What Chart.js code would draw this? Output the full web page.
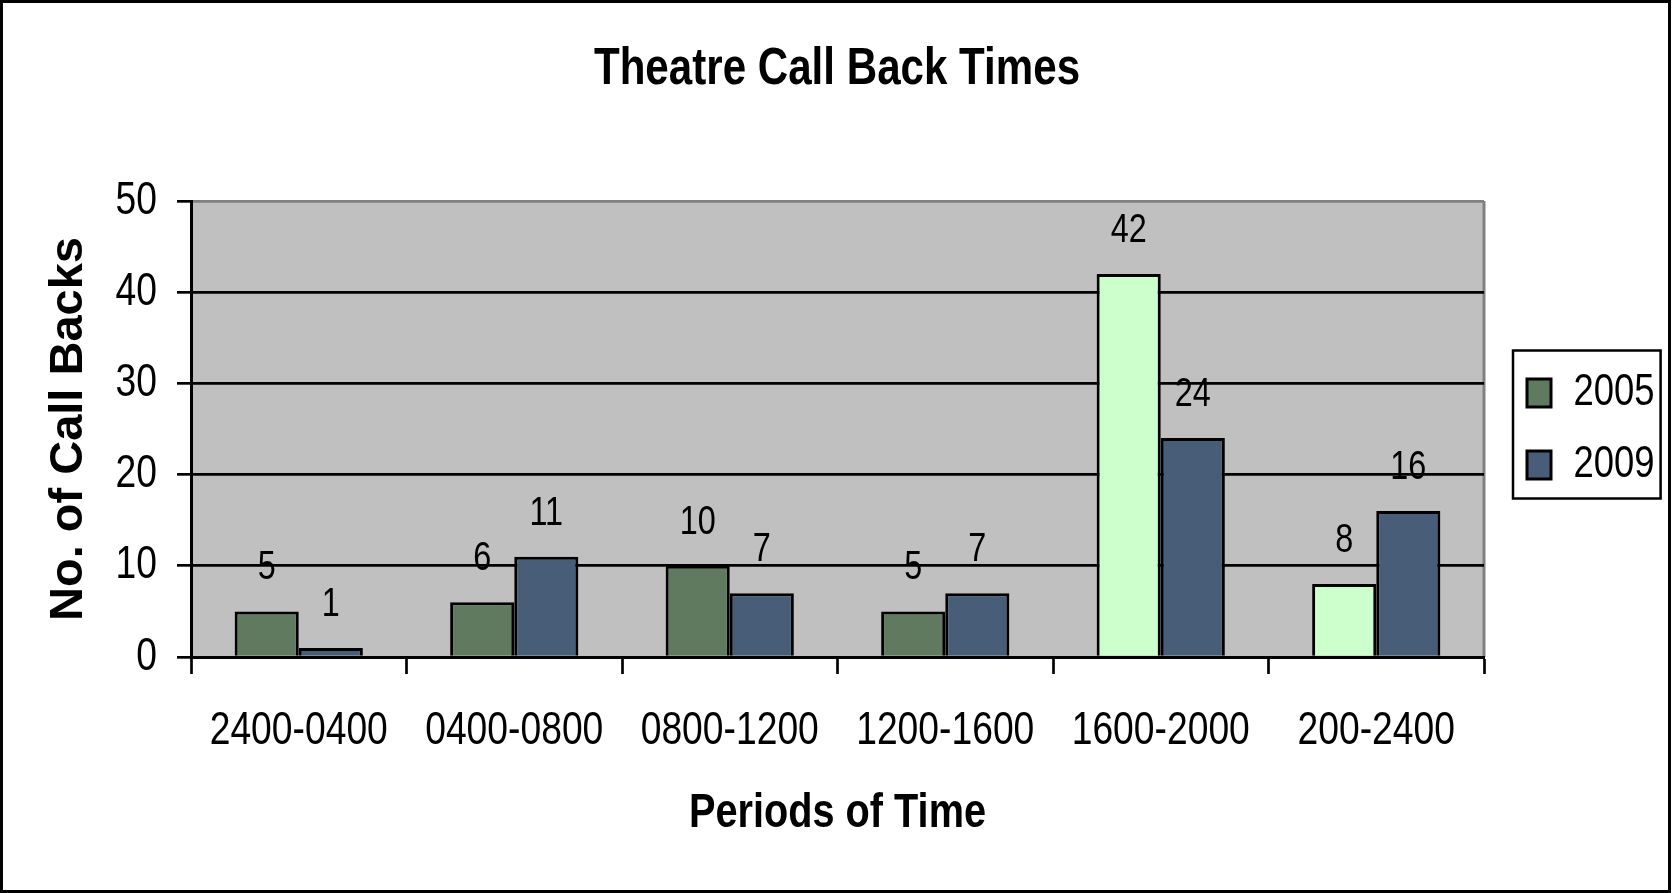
<!DOCTYPE html>
<html>
<head>
<meta charset="utf-8">
<title>Theatre Call Back Times</title>
<script src="https://cdn.jsdelivr.net/npm/chart.js@4.4.1/dist/chart.umd.min.js"></script>
<style>
  html, body { margin: 0; padding: 0; background: #ffffff; }
  #wrap { width: 1672px; height: 893px; }
  canvas { display: block; }
</style>
</head>
<body>
<div id="wrap"><canvas id="chart" width="1672" height="893"></canvas></div>
<script>
// ---- data ----
const periods = ['2400-0400', '0400-0800', '0800-1200', '1200-1600', '1600-2000', '200-2400'];
const seriesNames = ['2005', '2009'];
const calls2005 = [5, 6, 10, 5, 42, 8];
const calls2009 = [1, 11, 7, 7, 24, 16];
const yTickValues = [0, 10, 20, 30, 40, 50];

// ---- styles ----
const NARROW = "'Liberation Sans Narrow', 'Liberation Sans', Arial, sans-serif";
const WIDE = "'Liberation Sans', Arial, sans-serif";
const fill2005 = ['#5f7a5f', '#5f7a5f', '#5f7a5f', '#5f7a5f', '#ccffcc', '#ccffcc'];
const fill2009 = '#485d78';
const plotBg = '#c0c0c0';
const legendFontSize = 45;
const legendPad = 27;
const legendBox = 24;
const legendShift = 16;

// The narrow face is optional: when it is missing, the regular face is
// squeezed horizontally wherever a narrow font was asked for.
const probe = document.createElement('canvas').getContext('2d');
probe.font = "40px 'Liberation Sans Narrow', monospace";
const wNarrow = probe.measureText('Theatre 2400-0400').width;
probe.font = '40px monospace';
const wMono = probe.measureText('Theatre 2400-0400').width;
const squeeze = Math.abs(wNarrow - wMono) > 0.5 ? 1 : 0.81;

function condenseText(ctx) {
  const rawFill = ctx.fillText;
  const rawMeasure = ctx.measureText;
  const factor = c => (squeeze !== 1 && c.font.indexOf('Narrow') !== -1) ? squeeze : 1;
  ctx.fillText = function (text, x, y, maxWidth) {
    const f = factor(this);
    if (f === 1) {
      return maxWidth === undefined ? rawFill.call(this, text, x, y) : rawFill.call(this, text, x, y, maxWidth);
    }
    this.save();
    this.translate(x, y);
    this.scale(f, 1);
    if (maxWidth === undefined) rawFill.call(this, text, 0, 0);
    else rawFill.call(this, text, 0, 0, maxWidth / f);
    this.restore();
  };
  ctx.measureText = function (text) {
    const m = rawMeasure.call(this, text);
    const f = factor(this);
    if (f === 1) return m;
    return {
      width: m.width * f,
      actualBoundingBoxLeft: m.actualBoundingBoxLeft * f,
      actualBoundingBoxRight: m.actualBoundingBoxRight * f,
      actualBoundingBoxAscent: m.actualBoundingBoxAscent,
      actualBoundingBoxDescent: m.actualBoundingBoxDescent,
      fontBoundingBoxAscent: m.fontBoundingBoxAscent,
      fontBoundingBoxDescent: m.fontBoundingBoxDescent
    };
  };
  return ctx;
}

const canvas = document.getElementById('chart');
const ctx2d = condenseText(canvas.getContext('2d'));

// width the legend will need, so the plot area ends at x = 1484
ctx2d.font = legendFontSize + 'px ' + NARROW;
const legendTextW = Math.max(...seriesNames.map(t => ctx2d.measureText(t).width));
const legendWidth = legendPad + legendBox + legendFontSize / 2 + legendTextW + 10;
const plotRight = 1484;
const rightPad = 1672 - plotRight - legendWidth;

// grey plot area, outer frame and the legend frame
const framePlugin = {
  id: 'framePlugin',
  afterLayout(chart) {
    // legend sits a little away from the plot; title centred on the whole canvas
    chart.legend.left += legendShift;
    chart.legend.right += legendShift;
    if (chart.titleBlock) {
      chart.titleBlock.left += rightPad / 2 + 1;
      chart.titleBlock.right += rightPad / 2 + 1;
    }
  },
  beforeDraw(chart) {
    const { ctx, chartArea: a, width, height } = chart;
    ctx.save();
    ctx.fillStyle = '#ffffff';
    ctx.fillRect(0, 0, width, height);
    ctx.fillStyle = plotBg;
    ctx.fillRect(a.left, a.top, a.right - a.left, a.bottom - a.top);
    ctx.strokeStyle = '#808080';
    ctx.lineWidth = 3;
    ctx.beginPath();
    ctx.moveTo(a.right, a.top);
    ctx.lineTo(a.right, a.bottom);
    ctx.stroke();
    ctx.restore();
  },
  afterDraw(chart) {
    const { ctx, width, height } = chart;
    ctx.save();
    ctx.strokeStyle = '#000000';
    ctx.lineWidth = 3;
    ctx.strokeRect(1.5, 1.5, width - 4, height - 3);
    const hb = chart.legend.legendHitBoxes;
    if (hb && hb.length) {
      const first = hb[0], last = hb[hb.length - 1];
      const right = Math.max(...hb.map(h => h.left + h.width));
      const x0 = first.left - 14, y0 = first.top - 20;
      const x1 = right + 6, y1 = last.top + last.height + 11;
      ctx.lineWidth = 2.5;
      ctx.strokeRect(x0, y0, x1 - x0, y1 - y0);
    }
    ctx.restore();
  }
};

// value written above every bar
const valueLabels = {
  id: 'valueLabels',
  afterDatasetsDraw(chart) {
    const { ctx } = chart;
    ctx.save();
    ctx.font = '40px ' + NARROW;
    ctx.fillStyle = '#000000';
    ctx.textAlign = 'center';
    ctx.textBaseline = 'middle';
    chart.data.datasets.forEach((ds, i) => {
      chart.getDatasetMeta(i).data.forEach((bar, j) => {
        ctx.fillText(String(ds.data[j]), bar.x, bar.y - 43);
      });
    });
    ctx.restore();
  }
};

new Chart(ctx2d, {
  type: 'bar',
  data: {
    labels: periods,
    datasets: [
      {
        label: seriesNames[0],
        data: calls2005,
        backgroundColor: c => fill2005[c.dataIndex] ?? fill2005[0],
        borderColor: '#000000',
        borderWidth: 3
      },
      {
        label: seriesNames[1],
        data: calls2009,
        backgroundColor: fill2009,
        borderColor: '#000000',
        borderWidth: 3
      }
    ]
  },
  options: {
    responsive: false,
    animation: false,
    devicePixelRatio: 1,
    layout: { padding: { top: 0, bottom: 0, left: 0, right: rightPad } },
    datasets: {
      bar: { categoryPercentage: 0.595, barPercentage: 1.0 }
    },
    plugins: {
      title: {
        display: true,
        text: 'Theatre Call Back Times',
        color: '#000000',
        font: { family: NARROW, size: 52, weight: 'bold', lineHeight: 1.2 },
        padding: { top: 38, bottom: 100.6 }
      },
      legend: {
        display: true,
        position: 'right',
        align: 'center',
        fullSize: false,
        labels: {
          color: '#000000',
          font: { family: NARROW, size: legendFontSize },
          boxWidth: legendBox,
          boxHeight: 28,
          padding: legendPad
        }
      },
      tooltip: { enabled: false }
    },
    scales: {
      x: {
        offset: true,
        grid: {
          offset: true,
          drawOnChartArea: false,
          drawTicks: true,
          tickLength: 17,
          tickColor: '#000000',
          tickWidth: 2.7
        },
        border: { display: true, color: '#000000', width: 3 },
        ticks: {
          color: '#000000',
          font: { family: NARROW, size: 46 },
          padding: 30,
          maxRotation: 0,
          autoSkip: false
        },
        title: {
          display: true,
          text: 'Periods of Time',
          color: '#000000',
          font: { family: NARROW, size: 49, weight: 'bold', lineHeight: 1.2 },
          padding: { top: 0, bottom: 50 }
        },
        afterFit(scale) { scale.height = 236; }
      },
      y: {
        min: yTickValues[0],
        max: yTickValues[yTickValues.length - 1],
        afterBuildTicks(scale) { scale.ticks = yTickValues.map(v => ({ value: v })); },
        grid: {
          color: c => (c.tick && c.tick.value === yTickValues[yTickValues.length - 1]) ? '#808080' : '#000000',
          lineWidth: 2.7,
          drawTicks: true,
          tickLength: 14,
          tickColor: '#000000',
          tickWidth: 2.7
        },
        border: { display: true, color: '#000000', width: 3 },
        ticks: {
          color: '#000000',
          font: { family: NARROW, size: 46 },
          padding: 20
        },
        title: {
          display: true,
          text: 'No. of Call Backs',
          color: '#000000',
          font: { family: WIDE, size: 47, weight: 'bold', lineHeight: 1.2 },
          padding: { top: 41, bottom: 0 }
        },
        afterFit(scale) { scale.width = 191; }
      }
    }
  },
  plugins: [framePlugin, valueLabels]
});
</script>
</body>
</html>
